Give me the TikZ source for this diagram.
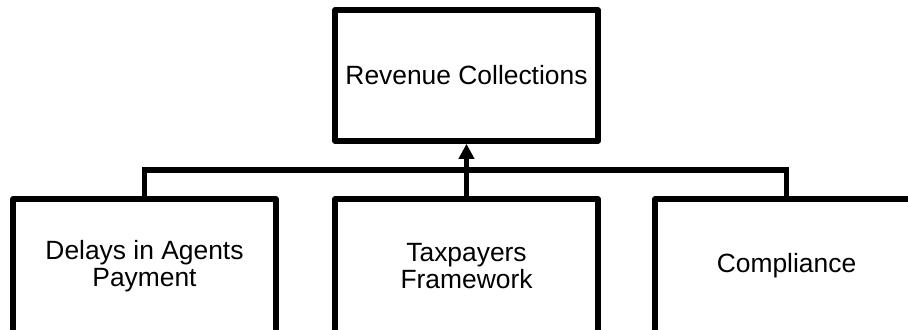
\documentclass[tikz,border=0pt]{standalone}
\usepackage{fontspec}
\setmainfont{Liberation Sans}
\usetikzlibrary{arrows.meta}
\begin{document}
\begin{tikzpicture}[x=0.5pt, y=-0.5pt,
  box/.style={draw=black, line width=2.8pt, line join=round, fill=white,
    minimum width=131.5pt, inner sep=0pt, align=center,
    font=\fontsize{13.2pt}{13.8pt}\selectfont},
  link/.style={draw=black, line width=2.8pt, line join=miter}]
\useasboundingbox (0,0) rectangle (908,329);
% top level
\node[box, minimum height=65.5pt] (rev) at (466.5,75.5) {Revenue Collections};
% factors
\node[box, minimum height=67pt] (dly) at (144.5,266) {Delays in Agents\\Payment};
\node[box, minimum height=67pt] (tax) at (466.5,266) {Taxpayers\\Framework};
\node[box, minimum height=67pt] (cmp) at (786.5,266) {Compliance};
% connectors
\coordinate (bus) at (466.5,170);
\draw[link] (dly.north) |- (bus) -| (cmp.north);
\draw[link, -{Triangle[length=7.5pt, width=7.5pt]}] (tax.north) -- (rev.south);
\end{tikzpicture}
\end{document}
